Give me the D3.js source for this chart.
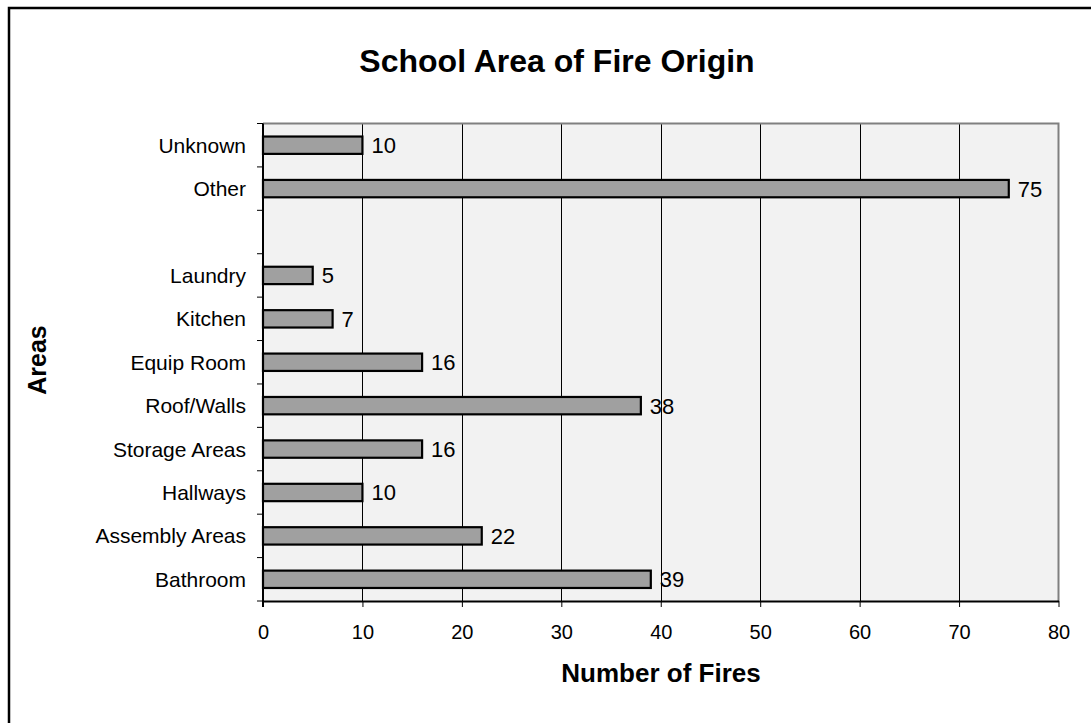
<!DOCTYPE html>
<html>
<head>
<meta charset="utf-8">
<script src="https://cdn.jsdelivr.net/npm/d3@7/dist/d3.min.js"></script>
<style>
  html, body { margin: 0; padding: 0; background: #fff; }
  svg { display: block; }
  text { font-family: "Liberation Sans", Arial, sans-serif; fill: #000; }
</style>
</head>
<body>
<svg id="chart" width="1091" height="723"></svg>
<script>
const categories = ["Unknown", "Other", "", "Laundry", "Kitchen", "Equip Room", "Roof/Walls", "Storage Areas", "Hallways", "Assembly Areas", "Bathroom"];
const values = [10, 75, null, 5, 7, 16, 38, 16, 10, 22, 39];
const xTicks = [0, 10, 20, 30, 40, 50, 60, 70, 80];
const title = "School Area of Fire Origin";
const xTitle = "Number of Fires";
const yTitle = "Areas";

const svg = d3.select("#chart");
const plot = { left: 263, right: 1058.5, top: 123.5, bottom: 601 };

// outer frame (right/bottom edges lie outside the picture)
svg.append("rect")
  .attr("x", 9).attr("y", 8).attr("width", 1200).attr("height", 1000)
  .attr("fill", "#fff").attr("stroke", "#000").attr("stroke-width", 2.5);

const x = d3.scaleLinear().domain([0, 80]).range([plot.left, plot.right]);
const y = d3.scaleBand().domain(categories).range([plot.top, plot.bottom]).paddingInner(0.6).paddingOuter(0.3);
const yStep = d3.scaleBand().domain(categories).range([plot.top, plot.bottom]);

// plot background
svg.append("rect")
  .attr("x", plot.left).attr("y", plot.top)
  .attr("width", plot.right - plot.left).attr("height", plot.bottom - plot.top)
  .attr("fill", "#f2f2f2");

// gridlines
svg.append("g").selectAll("line")
  .data(xTicks.filter(t => t > 0 && t < 80))
  .join("line")
  .attr("x1", d => Math.round(x(d)) + 0.5).attr("x2", d => Math.round(x(d)) + 0.5)
  .attr("y1", plot.top).attr("y2", plot.bottom)
  .attr("stroke", "#000").attr("stroke-width", 1);

// gray border top and right
svg.append("path")
  .attr("d", `M${plot.left},${plot.top}H${plot.right}V${plot.bottom}`)
  .attr("fill", "none").attr("stroke", "#808080").attr("stroke-width", 2);

// bars
const data = categories.map((c, i) => ({ c, v: values[i] })).filter(d => d.v !== null);
svg.append("g").selectAll("rect")
  .data(data)
  .join("rect")
  .attr("x", x(0))
  .attr("y", d => y(d.c))
  .attr("width", d => x(d.v) - x(0))
  .attr("height", y.bandwidth())
  .attr("fill", "#a0a0a0")
  .attr("stroke", "#000").attr("stroke-width", 2.2);

// value labels
svg.append("g").selectAll("text")
  .data(data)
  .join("text")
  .attr("x", d => x(d.v) + 9)
  .attr("y", d => y(d.c) + y.bandwidth() / 2)
  .attr("dy", "0.36em")
  .attr("font-size", 22)
  .text(d => d.v);

// x axis
const xAxis = d3.axisBottom(x).tickValues(xTicks).tickSize(6).tickPadding(18).tickSizeOuter(0);
const gx = svg.append("g").attr("transform", `translate(0,${plot.bottom})`).call(xAxis);
gx.select(".domain").attr("stroke", "#000").attr("stroke-width", 2);
gx.selectAll(".tick line").attr("stroke", "#000").attr("stroke-width", 1);
gx.selectAll(".tick text").attr("font-size", 20).attr("font-family", "Liberation Sans, Arial, sans-serif").attr("fill", "#000");

// y axis line
svg.append("line")
  .attr("x1", plot.left).attr("x2", plot.left)
  .attr("y1", plot.top).attr("y2", plot.bottom + 6)
  .attr("stroke", "#000").attr("stroke-width", 2);

// y ticks at band boundaries
const boundaries = categories.map(c => yStep(c)).concat([plot.bottom]);
svg.append("g").selectAll("line")
  .data(boundaries)
  .join("line")
  .attr("x1", plot.left - 6).attr("x2", plot.left)
  .attr("y1", d => d).attr("y2", d => d)
  .attr("stroke", "#000").attr("stroke-width", 1);

// y category labels
svg.append("g").selectAll("text")
  .data(categories)
  .join("text")
  .attr("x", 246)
  .attr("y", d => yStep(d) + yStep.bandwidth() / 2)
  .attr("dy", "0.36em")
  .attr("text-anchor", "end")
  .attr("font-size", 21)
  .text(d => d);

// titles
svg.append("text")
  .attr("x", 557).attr("y", 72)
  .attr("text-anchor", "middle")
  .attr("font-size", 32).attr("font-weight", "bold")
  .text(title);

svg.append("text")
  .attr("x", 661).attr("y", 682)
  .attr("text-anchor", "middle")
  .attr("font-size", 26).attr("font-weight", "bold")
  .text(xTitle);

svg.append("text")
  .attr("transform", `translate(46,360) rotate(-90)`)
  .attr("text-anchor", "middle")
  .attr("font-size", 25).attr("font-weight", "bold")
  .text(yTitle);
</script>
</body>
</html>
